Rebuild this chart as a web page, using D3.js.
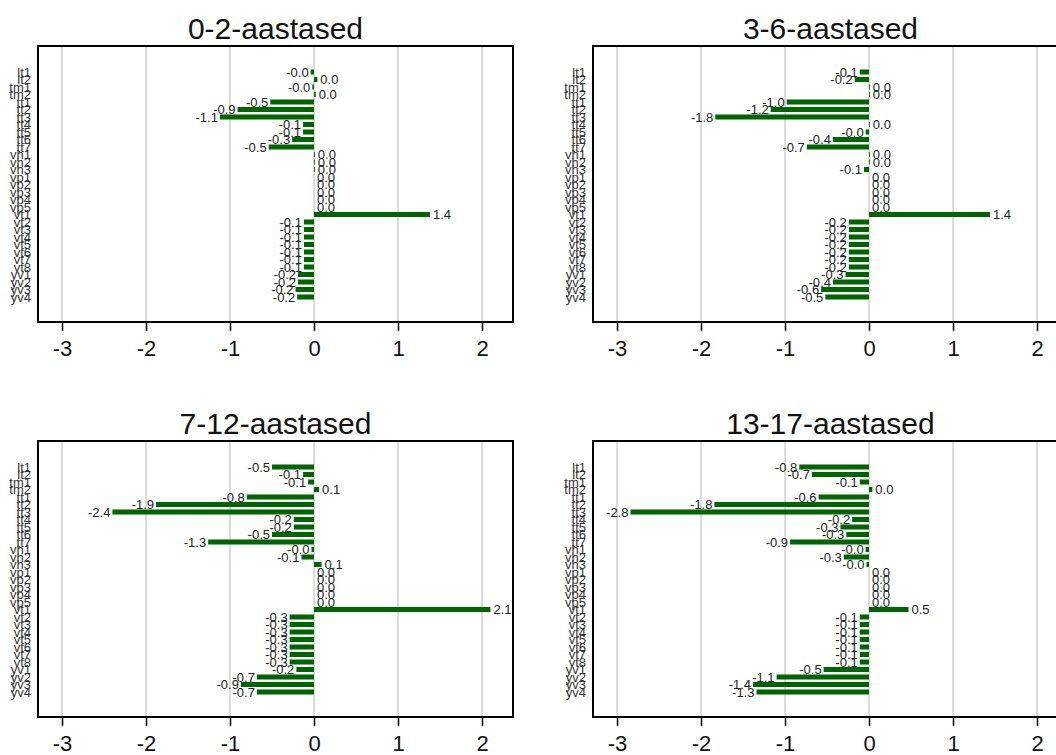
<!DOCTYPE html>
<html lang="et">
<head>
    <meta charset="UTF-8">
    <title>aastased</title>
    <script src="https://cdn.jsdelivr.net/npm/d3@7"></script>
    <style>
        body { margin: 0; background: #fff; }
        text { font-family: "Liberation Sans", Arial, sans-serif; }
    </style>
</head>
<body>
<script type="text/javascript">
    var categories = ["lt1", "lt2", "tm1", "tm2", "tt1", "tt2", "tt3", "tt4", "tt5", "tt6", "tt7",
        "vh1", "vh2", "vh3", "vp1", "vp2", "vp3", "vp4", "vp5",
        "vt1", "vt2", "vt3", "vt4", "vt5", "vt6", "vt7", "vt8", "yv1", "yv2", "yv3", "yv4"];

    var titles = ["0-2-aastased", "3-6-aastased", "7-12-aastased", "13-17-aastased"];

    var age0_2 = [-0.04, 0.04, -0.02, 0.02, -0.52, -0.91, -1.12, -0.13, -0.13, -0.26, -0.54,
        0.01, 0.01, 0.01, 0, 0, 0, 0, 0,
        1.38, -0.12, -0.12, -0.12, -0.12, -0.12, -0.12, -0.12, -0.19, -0.19, -0.22, -0.2];
    var age3_6 = [-0.11, -0.17, 0.01, 0.01, -0.98, -1.17, -1.83, 0.01, -0.04, -0.43, -0.74,
        0.01, 0.01, -0.06, 0, 0, 0, 0, 0,
        1.44, -0.24, -0.24, -0.24, -0.24, -0.24, -0.24, -0.24, -0.28, -0.43, -0.57, -0.52];
    var age7_12 = [-0.5, -0.13, -0.07, 0.06, -0.8, -1.88, -2.4, -0.24, -0.24, -0.5, -1.26,
        -0.03, -0.15, 0.09, 0, 0, 0, 0, 0,
        2.1, -0.29, -0.29, -0.29, -0.29, -0.29, -0.29, -0.29, -0.21, -0.68, -0.87, -0.68];
    var age13_17 = [-0.83, -0.68, -0.11, 0.04, -0.6, -1.84, -2.84, -0.2, -0.34, -0.27, -0.94,
        -0.04, -0.3, -0.03, 0, 0, 0, 0, 0,
        0.47, -0.11, -0.11, -0.11, -0.11, -0.11, -0.11, -0.11, -0.54, -1.1, -1.38, -1.34];

    var tickValues = [-3, -2, -1, 0, 1, 2];

    var series = [age0_2, age3_6, age7_12, age13_17];

    var width = 1056;
    var height = 755;
    var boxW = 475, boxH = 276;
    var origins = [[38, 46], [593, 46], [38, 441], [593, 441]];

    var svg = d3.select('body').append('svg')
            .attr('width', width)
            .attr('height', height);

    var x = d3.scaleLinear()
            .domain([-3.286, 2.369])
            .range([0, boxW]);
    var y = d3.scaleBand()
            .domain(categories)
            .range([22.25, boxH - 21.25])
            .paddingInner(0.33)
            .paddingOuter(0.165);

    series.forEach(function (values, p) {
        var g = svg.append('g')
                .attr('transform', 'translate(' + origins[p][0] + ',' + origins[p][1] + ')');

        // titel
        g.append('text')
                .attr('x', boxW / 2)
                .attr('y', -7)
                .attr('text-anchor', 'middle')
                .style('font-size', '30px')
                .style('fill', '#111')
                .text(titles[p]);

        // vertikaalsed abijooned
        g.selectAll('.grid')
                .data(tickValues)
                .enter()
                .append('line')
                .attr('class', 'grid')
                .attr('x1', function (d) { return x(d); })
                .attr('x2', function (d) { return x(d); })
                .attr('y1', 0)
                .attr('y2', boxH)
                .style('stroke', '#dcdcdc')
                .style('stroke-width', 2);

        var data = categories.map(function (c, i) {
            return {name: c, value: values[i]};
        });

        g.selectAll('.bar')
                .data(data)
                .enter()
                .append('rect')
                .attr('class', 'bar')
                .attr('x', function (d) { return x(Math.min(0, d.value)); })
                .attr('y', function (d) { return y(d.name); })
                .attr('width', function (d) { return Math.abs(x(d.value) - x(0)); })
                .attr('height', y.bandwidth())
                .style('fill', '#006400');

        g.selectAll('.val')
                .data(data)
                .enter()
                .append('text')
                .attr('class', 'val')
                .attr('x', function (d) {
                    return d.value < 0 ? x(d.value) - 2 : x(d.value) + 3;
                })
                .attr('y', function (d) { return y(d.name) + y.bandwidth() / 2; })
                .attr('dy', '0.36em')
                .attr('text-anchor', function (d) { return d.value < 0 ? 'end' : 'start'; })
                .style('font-size', '13px')
                .style('fill', '#222')
                .text(function (d) { return d.value.toFixed(1); });

        // kategooriate nimed
        g.selectAll('.cat')
                .data(categories)
                .enter()
                .append('text')
                .attr('class', 'cat')
                .attr('x', -7)
                .attr('y', function (d) { return y(d) + y.bandwidth() / 2; })
                .attr('dy', '0.36em')
                .attr('text-anchor', 'end')
                .style('font-size', '13px')
                .style('fill', '#333')
                .text(function (d) { return d; });

        // x-telg
        var axis = g.append('g')
                .attr('transform', 'translate(0,' + boxH + ')')
                .call(d3.axisBottom(x)
                        .tickValues(tickValues)
                        .tickSize(9)
                        .tickPadding(9)
                        .tickFormat(function (d) { return String(d); }));
        axis.select('.domain').remove();
        axis.selectAll('line').style('stroke', '#000').style('stroke-width', 1.5);
        axis.selectAll('text')
                .style('font-size', '22px')
                .style('font-family', '"Liberation Sans", Arial, sans-serif')
                .style('fill', '#111');

        // raam
        g.append('rect')
                .attr('x', 0)
                .attr('y', 0)
                .attr('width', boxW)
                .attr('height', boxH)
                .style('fill', 'none')
                .style('stroke', '#000')
                .style('stroke-width', 2);
    });
</script>
</body>
</html>
